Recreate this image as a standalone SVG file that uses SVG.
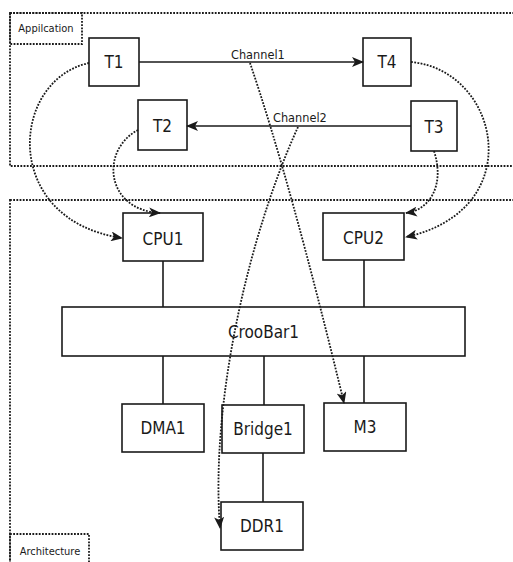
<svg xmlns="http://www.w3.org/2000/svg" width="513" height="562" viewBox="0 0 513 562">
<defs>
<style>
.frame{fill:none;stroke:#1a1a1a;stroke-width:1.8;stroke-dasharray:1.8 1.4}
.box{fill:#fff;stroke:#1a1a1a;stroke-width:1.6}
.lbl{font-family:"DejaVu Sans Condensed","DejaVu Sans",sans-serif;font-size:17px;fill:#1a1a1a;text-anchor:middle}
.small{font-family:"DejaVu Sans Condensed","DejaVu Sans",sans-serif;font-size:11px;fill:#1a1a1a;text-anchor:middle}
.ch{font-family:"DejaVu Sans Condensed","DejaVu Sans",sans-serif;font-size:12.6px;fill:#1a1a1a}
.solid{fill:none;stroke:#1a1a1a;stroke-width:1.6}
.dot{fill:none;stroke:#1a1a1a;stroke-width:1.8;stroke-dasharray:1.8 1.4}
.link{fill:none;stroke:#1a1a1a;stroke-width:1.6}
</style>
<marker id="arr" viewBox="0 0 12 10" refX="11" refY="5" markerWidth="12" markerHeight="10" markerUnits="userSpaceOnUse" orient="auto">
<path d="M0,0 L12,5 L0,10 L3,5 Z" fill="#1a1a1a" stroke="none"/>
</marker>
</defs>
<rect width="513" height="562" fill="#fff"/>
<g id="frame-application">
<rect class="frame" x="10" y="13" width="520" height="153"/>
<rect class="frame" x="10" y="13" width="72" height="31"/>
<text class="small" x="46" y="32">Appilcation</text>
</g>
<g id="frame-architecture">
<rect class="frame" x="10" y="200" width="520" height="380"/>
<rect class="frame" x="10" y="534" width="79" height="40"/>
<text class="small" x="50" y="555">Architecture</text>
</g>
<g id="links">
<line class="link" x1="163" y1="261" x2="163" y2="307"/>
<line class="link" x1="364" y1="260" x2="364" y2="307"/>
<line class="link" x1="163" y1="356" x2="163" y2="404"/>
<line class="link" x1="264" y1="356" x2="264" y2="405"/>
<line class="link" x1="364" y1="356" x2="364" y2="403"/>
<line class="link" x1="263" y1="453" x2="263" y2="502"/>
</g>
<g id="T1"><rect class="box" x="89" y="38" width="50" height="48"/><text class="lbl" x="114" y="68">T1</text></g>
<g id="T2"><rect class="box" x="138" y="100" width="49" height="50"/><text class="lbl" x="162.5" y="131.5">T2</text></g>
<g id="T3"><rect class="box" x="411" y="101" width="46" height="50"/><text class="lbl" x="434" y="132.5">T3</text></g>
<g id="T4"><rect class="box" x="363" y="38" width="48" height="48"/><text class="lbl" x="387" y="68">T4</text></g>
<g id="CPU1"><rect class="box" x="123" y="213" width="80" height="48"/><text class="lbl" x="163" y="245">CPU1</text></g>
<g id="CPU2"><rect class="box" x="323" y="213" width="81" height="47"/><text class="lbl" x="363.5" y="244">CPU2</text></g>
<g id="CrooBar1"><rect class="box" x="62" y="307" width="403" height="49"/><text class="lbl" x="263.5" y="338">CrooBar1</text></g>
<g id="DMA1"><rect class="box" x="122" y="404" width="82" height="48"/><text class="lbl" x="163" y="434">DMA1</text></g>
<g id="Bridge1"><rect class="box" x="222" y="405" width="82" height="48"/><text class="lbl" x="263" y="435">Bridge1</text></g>
<g id="M3"><rect class="box" x="324" y="403" width="82" height="48"/><text class="lbl" x="365" y="433">M3</text></g>
<g id="DDR1"><rect class="box" x="221" y="502" width="82" height="48"/><text class="lbl" x="262" y="532">DDR1</text></g>
<g id="connectors">
<line class="solid" x1="139" y1="62" x2="363" y2="62" marker-end="url(#arr)"/>
<text class="ch" x="231" y="59">Channel1</text>
<line class="solid" x1="411" y1="126" x2="187" y2="126" marker-end="url(#arr)"/>
<text class="ch" x="273" y="122">Channel2</text>
<path class="dot" d="M89,63 C10,80 0,220 122,238" marker-end="url(#arr)"/>
<path class="dot" d="M138,130 C100,150 105,210 160,213" marker-end="url(#arr)"/>
<path class="dot" d="M411,62 C500,70 530,210 406,237" marker-end="url(#arr)"/>
<path class="dot" d="M434,151 C445,185 430,210 406,213" marker-end="url(#arr)"/>
<path class="dot" d="M250,63 Q290,180 344,403" marker-end="url(#arr)"/>
<path class="dot" d="M298,127 C250,232 210,400 220,528" marker-end="url(#arr)"/>
</g>
</svg>
